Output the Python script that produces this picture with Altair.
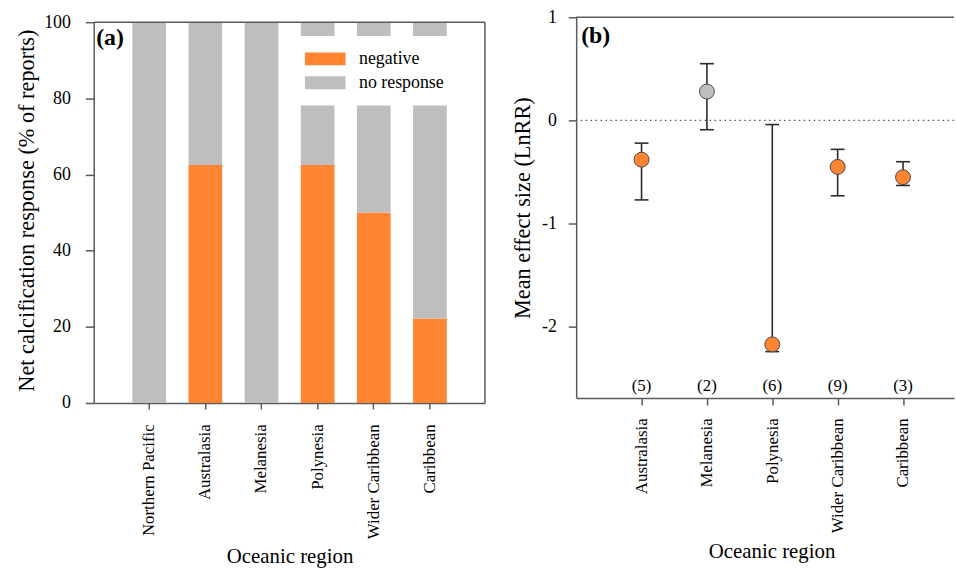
import altair as alt
import pandas as pd

FONT = "Liberation Serif"
ORANGE = "#FF8533"
GRAY = "#BEBEBE"
AXIS_COL = "#5a5a5a"
BAR_LINE = "#2b2b2b"

# ---------------- data: panel (a) ----------------
regions_a = ["Northern Pacific", "Australasia", "Melanesia", "Polynesia",
             "Wider Caribbean", "Caribbean"]
negative_pct = [0, 62.5, 0, 62.5, 50, 22.2]
no_response_pct = [100, 37.5, 100, 37.5, 50, 77.8]
responses = ["negative", "no response"]
y_ticks_a = [0, 20, 40, 60, 80, 100]

# ---------------- data: panel (b) ----------------
regions_b = ["Australasia", "Melanesia", "Polynesia", "Wider Caribbean", "Caribbean"]
mean_lnrr = [-0.38, 0.28, -2.17, -0.45, -0.55]
ci_low = [-0.77, -0.09, -2.24, -0.73, -0.63]
ci_high = [-0.22, 0.55, -0.04, -0.28, -0.40]
n_studies = [5, 2, 6, 9, 3]
effect_class = ["negative", "no response", "negative", "negative", "negative"]
y_ticks_b = [-2, -1, 0, 1]

# ---------------- tables ----------------
rows_a = []
for i, r in enumerate(regions_a):
    rows_a.append({"region": r, "response": responses[0], "pct": negative_pct[i], "order": 0})
    rows_a.append({"region": r, "response": responses[1], "pct": no_response_pct[i], "order": 1})
df_a = pd.DataFrame(rows_a)

df_b = pd.DataFrame({
    "idx": list(range(1, len(regions_b) + 1)),
    "region": regions_b,
    "mean": mean_lnrr,
    "lo": ci_low,
    "hi": ci_high,
    "nlab": [f"({n})" for n in n_studies],
    "cls": effect_class,
})

W_A, H_A = 394, 389      # panel (a) plot box sits 5 px lower than panel (b)
W_B, H_B = 381, 384

# ---------------- panel (a) ----------------
y_scale_a = alt.Scale(domain=[0, 101.3], nice=False)
bars = alt.Chart(df_a).mark_bar().encode(
    x=alt.X("region:N", sort=regions_a,
            scale=alt.Scale(paddingInner=0.4, paddingOuter=0.68),
            axis=alt.Axis(title="Oceanic region", labelAngle=270, labelFontSize=17,
                          titleFontSize=21, tickSize=6, labelPadding=15, titlePadding=7)),
    y=alt.Y("pct:Q", stack="zero", scale=y_scale_a,
            axis=alt.Axis(values=y_ticks_a, title="Net calcification response (% of reports)",
                          tickSize=9, labelPadding=15, titlePadding=5, labelFontSize=18,
                          titleFontSize=22.5, domain=False)),
    color=alt.Color("response:N",
                    scale=alt.Scale(domain=responses, range=[ORANGE, GRAY]),
                    legend=alt.Legend(orient="none", legendX=196, legendY=19, title=None,
                                      symbolType="M-1,-1H5.3V1H-1Z", symbolSize=169,
                                      symbolStrokeWidth=0, labelOffset=39,
                                      labelFontSize=18, labelFont=FONT, labelColor="black",
                                      fillColor="white", padding=14, rowPadding=6)),
    order=alt.Order("order:Q"),
)

frame_src = pd.DataFrame({"lo": [0], "hi": [100]})
top_a = alt.Chart(frame_src).mark_rule(color=AXIS_COL, strokeWidth=1.5).encode(y="hi:Q")
left_a = alt.Chart(frame_src).mark_rule(color=AXIS_COL, strokeWidth=1.5).encode(
    x=alt.value(0), y="lo:Q", y2="hi:Q")
right_a = alt.Chart(frame_src).mark_rule(color=AXIS_COL, strokeWidth=1.5).encode(
    x=alt.value(W_A), y="lo:Q", y2="hi:Q")

label_a = alt.Chart(pd.DataFrame({"t": ["(a)"]})).mark_text(
    font=FONT, fontSize=24, fontWeight="bold", align="left", baseline="top", color="black"
).encode(x=alt.value(2), y=alt.value(9), text="t:N")

panel_a = alt.layer(bars, top_a, left_a, right_a, label_a).properties(
    width=W_A, height=H_A, view=alt.ViewBackground(stroke="transparent"))

# ---------------- panel (b) ----------------
label_expr = "[" + ",".join(f"'{r}'" for r in regions_b) + "][datum.value - 1]"

x_b = alt.X("idx:Q", scale=alt.Scale(domain=[0, 5.78], nice=False, zero=False),
            axis=alt.Axis(values=list(range(1, len(regions_b) + 1)), labelExpr=label_expr,
                          title="Oceanic region", labelAngle=270, labelFontSize=17,
                          titleFontSize=21, tickSize=7, labelPadding=13, titlePadding=8,
                          titleX=197, grid=False))
y_scale_b = alt.Scale(domain=[-2.69, 1], nice=False, zero=False)
y_axis_b = alt.Axis(values=y_ticks_b, labelExpr="datum.value + ''",
                    title="Mean effect size (LnRR)", tickSize=8, labelPadding=12,
                    titlePadding=7, labelFontSize=18, titleFontSize=22.5, grid=False)

top_line = alt.Chart(pd.DataFrame({"v": [1]})).mark_rule(
    color=AXIS_COL, strokeWidth=1.5).encode(y=alt.Y("v:Q", scale=y_scale_b, axis=y_axis_b))

zero_line = alt.Chart(pd.DataFrame({"v": [0]})).mark_rule(
    color="#555555", strokeWidth=1.3, strokeDash=[1.5, 3.5]).encode(y=alt.Y("v:Q"))

err = alt.Chart(df_b).mark_rule(color=BAR_LINE, strokeWidth=1.6).encode(
    x=x_b, y=alt.Y("lo:Q"), y2="hi:Q")
cap_lo = alt.Chart(df_b).mark_tick(orient="horizontal", size=14, thickness=1.6,
                                   color=BAR_LINE, opacity=1).encode(x="idx:Q", y="lo:Q")
cap_hi = alt.Chart(df_b).mark_tick(orient="horizontal", size=14, thickness=1.6,
                                   color=BAR_LINE, opacity=1).encode(x="idx:Q", y="hi:Q")
pts = alt.Chart(df_b).mark_circle(size=227, opacity=1, stroke="#4a4a4a",
                                  strokeWidth=1).encode(
    x="idx:Q", y="mean:Q",
    color=alt.Color("cls:N", scale=alt.Scale(domain=responses, range=[ORANGE, GRAY]),
                    legend=None))
counts = alt.Chart(df_b).mark_text(font=FONT, fontSize=17, color="black").encode(
    x="idx:Q", y=alt.value(372), text="nlab:N")
label_b = alt.Chart(pd.DataFrame({"t": ["(b)"]})).mark_text(
    font=FONT, fontSize=24, fontWeight="bold", align="left", baseline="top", color="black"
).encode(x=alt.value(5), y=alt.value(7), text="t:N")

panel_b = alt.layer(top_line, zero_line, err, cap_lo, cap_hi, pts, counts, label_b).properties(
    width=W_B, height=H_B, view=alt.ViewBackground(stroke="transparent"))

chart = alt.hconcat(panel_a, panel_b, spacing=24).resolve_scale(color="independent").properties(
    padding={"left": 15, "top": 5, "right": 0, "bottom": 0},
    background="white",
).configure_axis(
    labelFont=FONT, titleFont=FONT, labelColor="black", titleColor="black",
    titleFontWeight="normal", domainColor=AXIS_COL, tickColor=AXIS_COL,
    domainWidth=1.5, tickWidth=1.5, grid=False
)

chart.save("out.html", embed_options={"renderer": "svg", "actions": False})
